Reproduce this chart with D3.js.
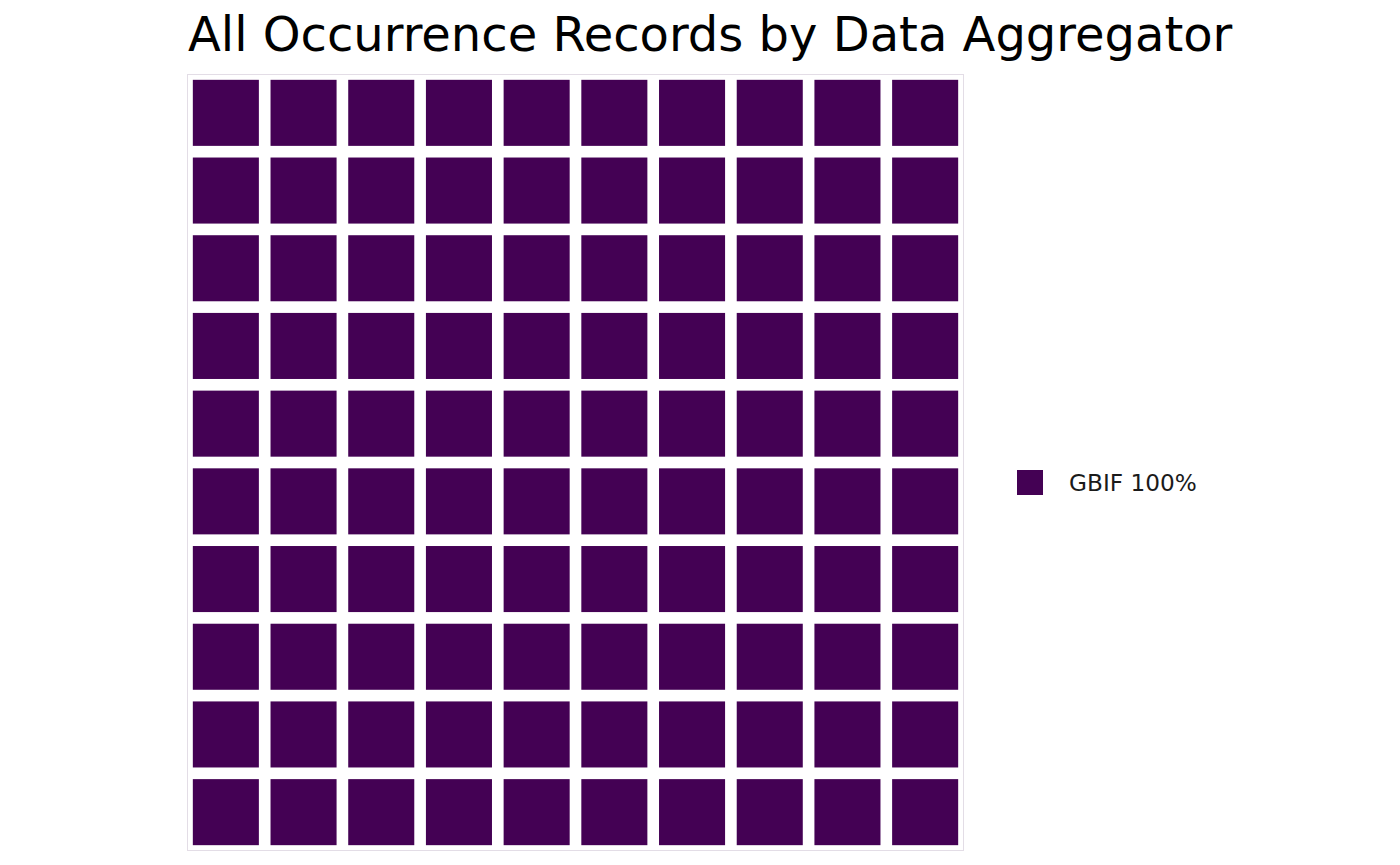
<!DOCTYPE html>
<html>
<head>
<meta charset="utf-8">
<script src="https://cdn.jsdelivr.net/npm/d3@7"></script>
<style>
  body { margin: 0; background: #fff; }
  text { font-family: "DejaVu Sans", sans-serif; }
</style>
</head>
<body>
<svg id="chart" width="1400" height="865"></svg>
<script>
// data
var categories = ['GBIF'];
var counts = [100];
var legendLabels = ['GBIF 100%'];
var colors = ['#440154'];
var titleText = 'All Occurrence Records by Data Aggregator';
var nCols = 10, nRows = 10;

var svg = d3.select('#chart');

var panel = { x: 187, y: 74, w: 777, h: 777 };

// expand counts into one tile per unit
var tiles = [];
categories.forEach(function (c, i) {
  for (var k = 0; k < counts[i]; k++) tiles.push({ cat: c, idx: tiles.length });
});

var x = d3.scaleBand().domain(d3.range(nCols)).range([panel.x, panel.x + panel.w]).paddingInner(0.15).paddingOuter(0.075);
var y = d3.scaleBand().domain(d3.range(nRows)).range([panel.y, panel.y + panel.h]).paddingInner(0.15).paddingOuter(0.075);
var color = d3.scaleOrdinal().domain(categories).range(colors);

svg.append('text')
  .attr('x', 188)
  .attr('y', 51)
  .attr('font-size', 48)
  .attr('fill', '#000')
  .text(titleText);

svg.append('rect')
  .attr('x', panel.x + 0.5).attr('y', panel.y + 0.5)
  .attr('width', panel.w - 1).attr('height', panel.h - 1)
  .attr('fill', 'none').attr('stroke', '#e3dde6').attr('stroke-width', 1);

svg.append('g').selectAll('rect')
  .data(tiles)
  .join('rect')
  .attr('x', function (d) { return x(d.idx % nCols); })
  .attr('y', function (d) { return y(Math.floor(d.idx / nCols)); })
  .attr('width', x.bandwidth())
  .attr('height', y.bandwidth())
  .attr('fill', function (d) { return color(d.cat); });

var legend = svg.append('g').selectAll('g')
  .data(categories)
  .join('g')
  .attr('transform', function (d, i) { return 'translate(1017,' + (470 + i * 30) + ')'; });

legend.append('rect')
  .attr('width', 26).attr('height', 25)
  .attr('fill', function (d) { return color(d); });

legend.append('text')
  .attr('x', 52)
  .attr('y', 21)
  .attr('font-size', 23.2)
  .attr('fill', '#1a1a1a')
  .text(function (d, i) { return legendLabels[i]; });
</script>
</body>
</html>
